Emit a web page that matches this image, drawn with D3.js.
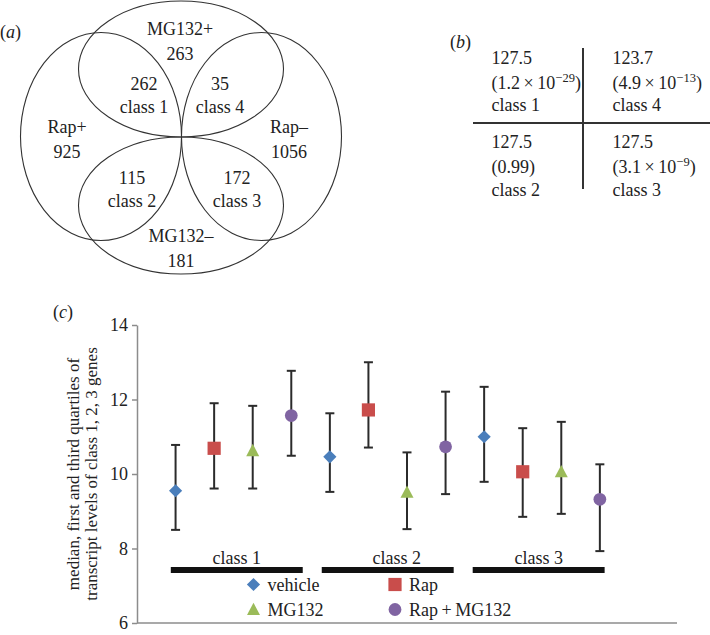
<!doctype html>
<html lang="en">
  <head>
    <meta charset="utf-8">
    <title>Venn, table and quartile chart</title>
    <script src="https://d3js.org/d3.v7.min.js"></script>
    <style type="text/css">
      body {
        margin: 0;
        background-color: #fff;
      }
      svg text {
        font-family: "Liberation Serif", serif;
        fill: #222;
      }
    </style>
  </head>
  <body>
    <script>
      // ---- data ----
      // (a) venn diagram
      var vennSets = ["MG132+", "Rap+", "Rap\u2013", "MG132\u2013"];
      var vennTotals = [263, 925, 1056, 181];
      var vennClasses = ["class 1", "class 2", "class 3", "class 4"];
      var vennCounts = [262, 115, 172, 35];

      // (b) table
      var tableClasses = ["class 1", "class 4", "class 2", "class 3"];
      var tableStat = [127.5, 123.7, 127.5, 127.5];
      var pMantissa = ["1.2", "4.9", "0.99", "3.1"];
      var pExponent = [-29, -13, null, -9];

      // (c) medians and quartiles, one array per treatment, by class 1..3
      var classes = ["class 1", "class 2", "class 3"];
      var treatments = ["vehicle", "Rap", "MG132", "Rap\u2009+\u2009MG132"];
      var vehicleMed = [9.55, 10.46, 11.0];
      var vehicleQ1 = [8.5, 9.52, 9.79];
      var vehicleQ3 = [10.78, 11.63, 12.34];
      var rapMed = [10.69, 11.72, 10.06];
      var rapQ1 = [9.61, 10.71, 8.85];
      var rapQ3 = [11.9, 13.0, 11.23];
      var mgMed = [10.63, 9.51, 10.06];
      var mgQ1 = [9.61, 8.52, 8.93];
      var mgQ3 = [11.83, 10.58, 11.4];
      var rapMgMed = [11.57, 10.73, 9.32];
      var rapMgQ1 = [10.49, 9.46, 7.93];
      var rapMgQ3 = [12.77, 12.21, 10.26];
      var yTicks = [6, 8, 10, 12, 14];

      var colors = ["#4a7ebb", "#c94d4b", "#9bbb59", "#8064a2"];
      var shapes = ["diamond", "square", "triangle", "circle"];

      var serif = '"Liberation Serif", serif';
      var w = 710, h = 635;
      var svg = d3.select("body").append("svg")
        .attr("width", w)
        .attr("height", h)
        .attr("font-family", serif);

      // panel letter like "(a)" with italic letter
      function panelLabel(x, y, letter) {
        var t = svg.append("text").attr("x", x).attr("y", y).style("font-size", "18px");
        t.append("tspan").text("(");
        t.append("tspan").style("font-style", "italic").text(letter);
        t.append("tspan").text(")");
      }

      // ---- (a) venn ----
      var venn = svg.append("g");
      // ellipses: top, left, right, bottom
      var ellipses = [
        {cx: 181, cy: 69, rx: 102.5, ry: 68},
        {cx: 101, cy: 136.5, rx: 80.5, ry: 104},
        {cx: 261.5, cy: 136.5, rx: 80, ry: 104},
        {cx: 181, cy: 205.5, rx: 102.5, ry: 68.5}
      ];
      venn.selectAll("ellipse")
        .data(ellipses)
        .enter()
        .append("ellipse")
        .attr("cx", function(d) { return d.cx; })
        .attr("cy", function(d) { return d.cy; })
        .attr("rx", function(d) { return d.rx; })
        .attr("ry", function(d) { return d.ry; })
        .style("fill", "none")
        .style("stroke", "#333")
        .style("stroke-width", 1.1);

      var setPos = [[180, 35], [67, 133], [289, 133], [181, 242]];
      var classPos = [[144, 90], [132, 184], [237, 184], [220, 90]];

      vennSets.forEach(function(name, i) {
        var g = venn.append("text")
          .attr("text-anchor", "middle")
          .style("font-size", "18px");
        g.append("tspan").attr("x", setPos[i][0]).attr("y", setPos[i][1]).text(name);
        g.append("tspan").attr("x", setPos[i][0]).attr("y", setPos[i][1] + 24.5).text(vennTotals[i]);
      });
      vennClasses.forEach(function(name, i) {
        var g = venn.append("text")
          .attr("text-anchor", "middle")
          .style("font-size", "18px");
        g.append("tspan").attr("x", classPos[i][0]).attr("y", classPos[i][1]).text(vennCounts[i]);
        g.append("tspan").attr("x", classPos[i][0]).attr("y", classPos[i][1] + 23).text(name);
      });
      panelLabel(0, 38, "a");

      // ---- (b) table ----
      panelLabel(450, 48, "b");
      svg.append("line")
        .attr("x1", 583).attr("x2", 583).attr("y1", 48).attr("y2", 189)
        .style("stroke", "#333").style("stroke-width", 2);
      svg.append("line")
        .attr("x1", 473).attr("x2", 710).attr("y1", 123).attr("y2", 123)
        .style("stroke", "#333").style("stroke-width", 2);

      var colX = [491.5, 612.5];
      var rowY = [63.5, 148];
      var fmt = d3.format(".1f");
      tableClasses.forEach(function(name, i) {
        var x = colX[i % 2], y = rowY[Math.floor(i / 2)];
        var t = svg.append("text").style("font-size", "18px");
        t.append("tspan").attr("x", x).attr("y", y).text(fmt(tableStat[i]));
        if (pExponent[i] === null) {
          t.append("tspan").attr("x", x).attr("y", y + 25).text("(" + pMantissa[i] + ")");
        } else {
          t.append("tspan").attr("x", x).attr("y", y + 25)
            .text("(" + pMantissa[i] + "\u2009\u00d7\u200910");
          t.append("tspan").attr("dy", -7).style("font-size", "12.5px")
            .text("\u2212" + Math.abs(pExponent[i]));
          t.append("tspan").attr("dy", 7).text(")");
        }
        svg.append("text").style("font-size", "18px")
          .attr("x", x).attr("y", y + 47.5).text(name);
      });

      // ---- (c) quartile chart ----
      panelLabel(53, 318, "c");

      var x = d3.scaleLinear().domain([0, 14]).range([137, 677]);
      var y = d3.scaleLinear().domain([6, 14]).range([623, 325]);

      var yAxis = svg.append("g")
        .attr("transform", "translate(137,0)")
        .call(d3.axisLeft(y).tickValues(yTicks).tickSize(5).tickSizeOuter(0).tickPadding(4));
      yAxis.attr("font-family", serif).attr("font-size", 18);
      yAxis.select(".domain").style("stroke", "#8c8c8c").style("stroke-width", 1.5);
      yAxis.selectAll(".tick line").style("stroke", "#8c8c8c").style("stroke-width", 1.5);
      yAxis.selectAll(".tick text")
        .style("font-family", serif)
        .style("font-size", "18px")
        .style("fill", "#222");

      svg.append("line")
        .attr("x1", x(0)).attr("x2", x(14)).attr("y1", y(6)).attr("y2", y(6))
        .style("stroke", "#8c8c8c").style("stroke-width", 1.5);

      var yl = svg.append("text")
        .attr("transform", "translate(0,474) rotate(-90)")
        .attr("text-anchor", "middle")
        .style("font-size", "17px");
      yl.append("tspan").attr("x", 0).attr("y", 79).text("median, first and third quartiles of");
      yl.append("tspan").attr("x", 0).attr("y", 97).text("transcript levels of class 1, 2, 3 genes");

      // class bars under the groups
      var band = d3.scaleBand().domain(classes)
        .range([x(0.63), x(12.37)])
        .paddingInner(0.126)
        .paddingOuter(0.063);
      var labelShift = [0, 9, 0];
      svg.selectAll(".classbar")
        .data(classes)
        .enter()
        .append("rect")
        .attr("class", "classbar")
        .attr("x", function(d) { return band(d); })
        .attr("y", 567)
        .attr("width", band.bandwidth())
        .attr("height", 6)
        .style("fill", "#111");
      svg.selectAll(".classlabel")
        .data(classes)
        .enter()
        .append("text")
        .attr("class", "classlabel")
        .attr("x", function(d, i) { return band(d) + band.bandwidth() / 2 + labelShift[i]; })
        .attr("y", 564)
        .attr("text-anchor", "middle")
        .style("font-size", "18px")
        .text(function(d) { return d; });

      function markerPath(shape) {
        if (shape === "diamond") return "M0,-6.6L6.6,0L0,6.6L-6.6,0Z";
        if (shape === "square") return "M-6.6,-6.6H6.6V6.6H-6.6Z";
        if (shape === "triangle") return "M0,-6.8L6.5,5.6L-6.5,5.6Z";
        return d3.symbol(d3.symbolCircle, 128)();
      }

      var meds = [vehicleMed, rapMed, mgMed, rapMgMed];
      var q1s = [vehicleQ1, rapQ1, mgQ1, rapMgQ1];
      var q3s = [vehicleQ3, rapQ3, mgQ3, rapMgQ3];
      var points = [];
      classes.forEach(function(c, ci) {
        treatments.forEach(function(t, ti) {
          points.push({pos: ci * 4 + ti + 1, t: ti, med: meds[ti][ci], q1: q1s[ti][ci], q3: q3s[ti][ci]});
        });
      });

      var bars = svg.append("g").selectAll("g")
        .data(points)
        .enter()
        .append("g");
      bars.append("line")
        .attr("x1", function(d) { return x(d.pos); })
        .attr("x2", function(d) { return x(d.pos); })
        .attr("y1", function(d) { return y(d.q1); })
        .attr("y2", function(d) { return y(d.q3); })
        .style("stroke", "#2b2b2b").style("stroke-width", 2);
      ["q1", "q3"].forEach(function(k) {
        bars.append("line")
          .attr("x1", function(d) { return x(d.pos) - 4.5; })
          .attr("x2", function(d) { return x(d.pos) + 4.5; })
          .attr("y1", function(d) { return y(d[k]); })
          .attr("y2", function(d) { return y(d[k]); })
          .style("stroke", "#2b2b2b").style("stroke-width", 2);
      });
      bars.append("path")
        .attr("transform", function(d) { return "translate(" + x(d.pos) + "," + y(d.med) + ")"; })
        .attr("d", function(d) { return markerPath(shapes[d.t]); })
        .style("fill", function(d) { return colors[d.t]; });

      // legend
      var legX = [253.5, 395];
      var legY = [584.5, 609.5];
      treatments.forEach(function(t, i) {
        var lx = legX[i % 2], ly = legY[Math.floor(i / 2)];
        svg.append("path")
          .attr("transform", "translate(" + lx + "," + ly + ")")
          .attr("d", markerPath(shapes[i]))
          .style("fill", colors[i]);
        svg.append("text")
          .attr("x", lx + 14)
          .attr("y", ly + 6.5)
          .style("font-size", "18px")
          .text(t);
      });
    </script>
  </body>
</html>
